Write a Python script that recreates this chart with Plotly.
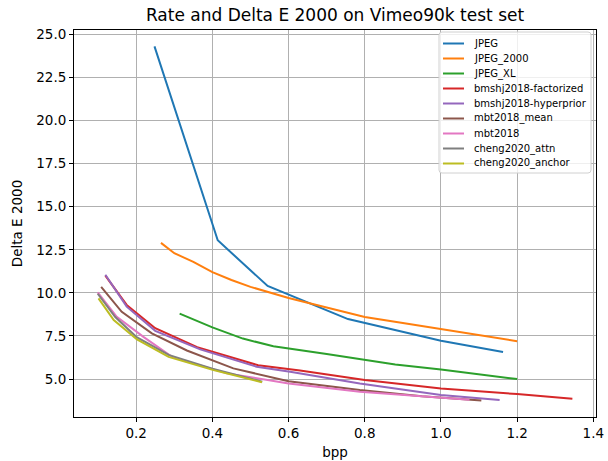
import plotly.graph_objects as go

names = ["JPEG", "JPEG_2000", "JPEG_XL", "bmshj2018-factorized", "bmshj2018-hyperprior",
         "mbt2018_mean", "mbt2018", "cheng2020_attn", "cheng2020_anchor"]
colors = ["#1f77b4", "#ff7f0e", "#2ca02c", "#d62728", "#9467bd",
          "#8c564b", "#e377c2", "#7f7f7f", "#bcbd22"]

jpeg_bpp = [0.248, 0.414, 0.545, 0.756, 1.0, 1.163]
jpeg_de = [24.3, 13.05, 10.4, 8.48, 7.22, 6.57]

j2k_bpp = [0.265, 0.30, 0.35, 0.40, 0.45, 0.50, 0.60, 0.70, 0.80, 0.90, 1.0, 1.10, 1.20]
j2k_de = [12.9, 12.3, 11.8, 11.2, 10.75, 10.35, 9.7, 9.15, 8.6, 8.25, 7.9, 7.55, 7.2]

jxl_bpp = [0.314, 0.40, 0.48, 0.56, 0.70, 0.88, 1.0, 1.2]
jxl_de = [8.8, 8.0, 7.35, 6.9, 6.45, 5.85, 5.55, 5.0]

fact_bpp = [0.119, 0.175, 0.25, 0.36, 0.52, 0.63, 0.80, 1.0, 1.2, 1.345]
fact_de = [11.0, 9.3, 7.95, 6.85, 5.8, 5.5, 4.95, 4.45, 4.13, 3.86]

hyper_bpp = [0.119, 0.175, 0.25, 0.368, 0.516, 0.604, 0.787, 1.0, 1.154]
hyper_de = [11.05, 9.2, 7.8, 6.72, 5.72, 5.43, 4.75, 4.07, 3.78]

mean_bpp = [0.108, 0.162, 0.241, 0.333, 0.455, 0.60, 0.787, 0.95, 1.106]
mean_de = [10.35, 8.9, 7.65, 6.66, 5.62, 4.88, 4.36, 4.0, 3.76]

mbt_bpp = [0.099, 0.149, 0.219, 0.294, 0.438, 0.60, 0.787, 0.93, 1.075]
mbt_de = [10.03, 8.61, 7.45, 6.29, 5.33, 4.75, 4.26, 4.02, 3.8]

attn_bpp = [0.099, 0.145, 0.20, 0.285, 0.40, 0.531]
attn_de = [9.95, 8.6, 7.45, 6.4, 5.6, 4.85]

anchor_bpp = [0.101, 0.141, 0.202, 0.285, 0.403, 0.53]
anchor_de = [9.68, 8.42, 7.3, 6.29, 5.52, 4.82]

series = [(jpeg_bpp, jpeg_de), (j2k_bpp, j2k_de), (jxl_bpp, jxl_de),
          (fact_bpp, fact_de), (hyper_bpp, hyper_de), (mean_bpp, mean_de),
          (mbt_bpp, mbt_de), (attn_bpp, attn_de), (anchor_bpp, anchor_de)]

xticks = [0.2, 0.4, 0.6, 0.8, 1.0, 1.2, 1.4]
yticks = [5.0, 7.5, 10.0, 12.5, 15.0, 17.5, 20.0, 22.5, 25.0]

W, H = 608, 461
ML, MR, MT, MB = 74, 12, 30, 44
PW, PH = W - ML - MR, H - MT - MB


def px(x):
    return (x - ML) / PW


def py(y):
    return (H - MB - y) / PH


fig = go.Figure()
for name, col, (x, y) in zip(names, colors, series):
    fig.add_trace(go.Scatter(x=x, y=y, mode="lines", name=name, showlegend=False,
                             line=dict(color=col, width=2)))

axis_common = dict(showline=True, linecolor="black", linewidth=1, mirror=True,
                   ticks="outside", ticklen=4, tickcolor="black", tickwidth=1,
                   showgrid=True, gridcolor="#b0b0b0", gridwidth=1, zeroline=False,
                   automargin=False, tickfont=dict(size=13.5, color="black"))

# legend box (matplotlib-style, rounded, light border)
lx0, lx1, ly0, ly1, r = 439, 591, 32, 173, 3
path = (f"M {px(lx0 + r)} {py(ly0)} L {px(lx1 - r)} {py(ly0)} "
        f"Q {px(lx1)} {py(ly0)} {px(lx1)} {py(ly0 + r)} L {px(lx1)} {py(ly1 - r)} "
        f"Q {px(lx1)} {py(ly1)} {px(lx1 - r)} {py(ly1)} L {px(lx0 + r)} {py(ly1)} "
        f"Q {px(lx0)} {py(ly1)} {px(lx0)} {py(ly1 - r)} L {px(lx0)} {py(ly0 + r)} "
        f"Q {px(lx0)} {py(ly0)} {px(lx0 + r)} {py(ly0)} Z")
shapes = [dict(type="path", xref="paper", yref="paper", path=path,
               fillcolor="rgba(255,255,255,0.8)", line=dict(color="#d0d0d0", width=1),
               layer="above")]
annotations = []
for i, (name, col) in enumerate(zip(names, colors)):
    yy = 43.5 + 15 * i
    shapes.append(dict(type="line", xref="paper", yref="paper",
                       x0=px(443), x1=px(464), y0=py(yy), y1=py(yy),
                       line=dict(color=col, width=2), layer="above"))
    annotations.append(dict(text=name, xref="paper", yref="paper", x=px(472), y=py(yy),
                            xanchor="left", yanchor="middle", showarrow=False,
                            font=dict(size=10, color="black")))

fig.update_layout(
    width=W, height=H,
    margin=dict(l=ML, r=MR, t=MT, b=MB),
    paper_bgcolor="white", plot_bgcolor="white",
    font=dict(family="DejaVu Sans", color="black"),
    showlegend=False,
    title=dict(text="Rate and Delta E 2000 on Vimeo90k test set", x=0.5, xanchor="center",
               xref="paper", yref="container", y=1 - 15 / H, yanchor="middle",
               font=dict(size=17)),
    xaxis=dict(range=[0.0367, 1.407], tickvals=xticks, ticktext=[f"{v:.1f}" for v in xticks],
               title=dict(text="bpp", font=dict(size=13.5), standoff=7), **axis_common),
    yaxis=dict(range=[2.8, 25.25], tickvals=yticks, ticktext=[f"{v:.1f}" for v in yticks],
               title=dict(text="Delta E 2000", font=dict(size=13.5), standoff=10), **axis_common),
    shapes=shapes, annotations=annotations,
)

fig.write_html("out.html")
